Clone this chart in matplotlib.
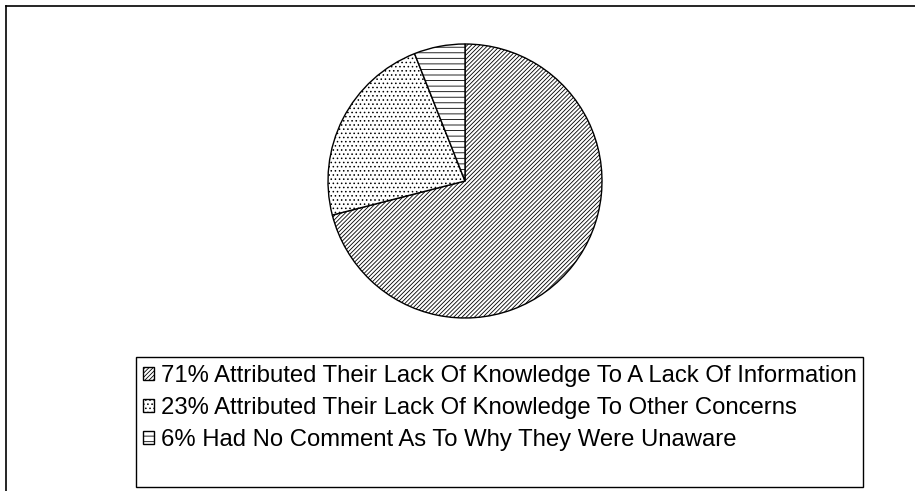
import matplotlib
matplotlib.use("Agg")
import matplotlib.pyplot as plt
from matplotlib.lines import Line2D
from matplotlib.patches import Rectangle

plt.rcParams['font.family'] = ['Liberation Sans', 'DejaVu Sans']
plt.rcParams['hatch.linewidth'] = 0.6

shares = [71, 23, 6]
labels = [
    "71% Attributed Their Lack Of Knowledge To A Lack Of Information",
    "23% Attributed Their Lack Of Knowledge To Other Concerns",
    "6% Had No Comment As To Why They Were Unaware",
]
hatches = ['////////', '....', '---']

W, H = 915, 491
fig = plt.figure(figsize=(W / 100, H / 100), dpi=100)

# outer chart frame (runs off the right and bottom edges)
fig.add_artist(Line2D([5.5 / W, 1.0], [1 - 5.5 / H, 1 - 5.5 / H], color='black', lw=1.2))
fig.add_artist(Line2D([5.5 / W, 5.5 / W], [1 - 5.5 / H, 0.0], color='black', lw=1.2))

# pie: centre (465,181), radius ~137 px
r = 137
ax = fig.add_axes([(465 - r) / W, 1 - (181 + r) / H, 2 * r / W, 2 * r / H])
wedges, _ = ax.pie(shares, startangle=90, counterclock=False,
                   colors=['white'] * 3,
                   wedgeprops=dict(edgecolor='black', linewidth=1.0))
for w, h in zip(wedges, hatches):
    w.set_hatch(h)
ax.set_aspect('equal')
ax.set_xlim(-1, 1)
ax.set_ylim(-1, 1)
ax.axis('off')

# legend box drawn separately (extra space at the bottom, as in the original)
fig.add_artist(Rectangle((136 / W, 1 - 487 / H), (863 - 136) / W, (487 - 357) / H,
                         transform=fig.transFigure, fill=False,
                         edgecolor='black', lw=1.0))
leg = fig.legend(wedges, labels, loc='upper left',
                 bbox_to_anchor=(143 / W, 1 - 365 / H),
                 frameon=False,
                 fontsize=17.2, handlelength=0.45, handleheight=0.45,
                 handletextpad=0.3, labelspacing=0.42,
                 borderpad=0, borderaxespad=0)

fig.savefig("out.png", dpi=100)
